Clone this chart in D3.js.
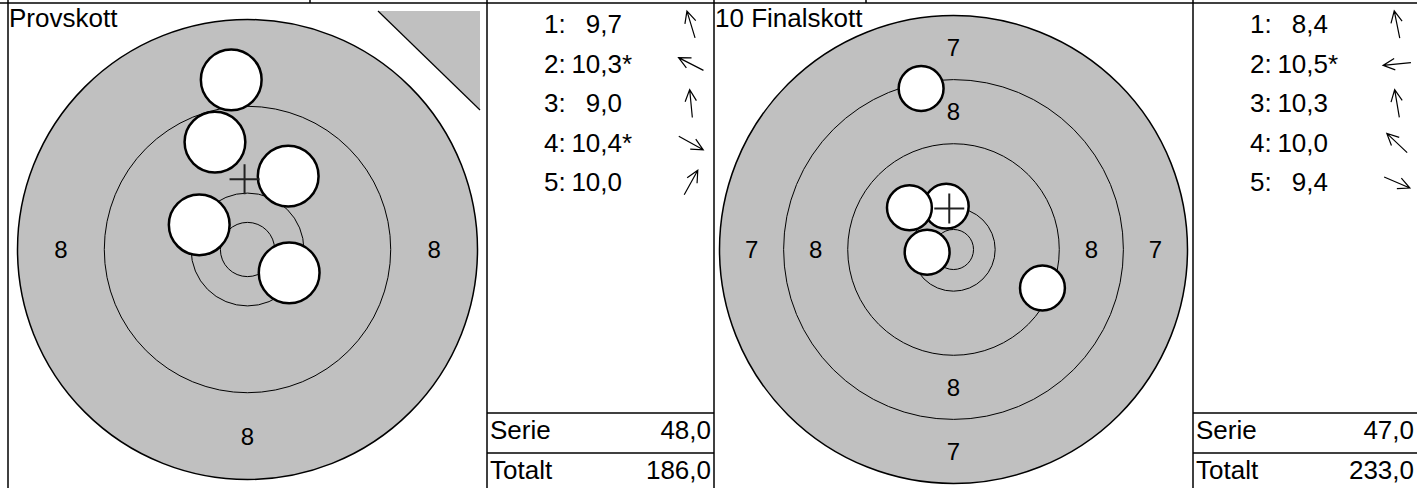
<!DOCTYPE html>
<html>
<head>
<meta charset="utf-8">
<script src="https://cdnjs.cloudflare.com/ajax/libs/d3/7.8.5/d3.min.js"></script>
<style>
  body { margin: 0; background: white; }
  svg text { font-family: "Liberation Sans", Arial, sans-serif; fill: black; }
</style>
</head>
<body>
<div id="chart"></div>
<script>
// ring radii in mm (X, 10, 9, 8, 7) and shot radius
var ringNames = ["X", "10", "9", "8", "7"];
var ringRadius = [2.5, 5.2, 13.2, 21.2, 29.2];
var shotRadius = 2.8;

var titles = ["Provskott", "10 Finalskott"];
var outerRing = [3, 4];      // last ring index shown in each target
var labelRings = [[3], [3, 4]];

// shot positions in mm, y up
var provX = [-3.0, -4.45, -1.5, 3.84, 3.75];
var provY = [9.9, 2.28, 15.64, -2.15, 6.76];
var provScore = ["9,7", "10,3", "9,0", "10,4", "10,0"];
var provInner = [false, true, false, true, false];

var finalX = [-4.04, -3.29, -0.91, -5.5, 11.1];
var finalY = [20.09, -0.34, 5.41, 5.21, -4.8];
var finalScore = ["8,4", "10,5", "10,3", "10,0", "9,4"];
var finalInner = [false, true, false, false, false];

var serie = ["48,0", "47,0"];
var totalt = ["186,0", "233,0"];

var WIDTH = 1417, HEIGHT = 488;
var svg = d3.select("#chart").append("svg")
  .attr("width", WIDTH)
  .attr("height", HEIGHT);

var panels = [
  {x0: 8, x1: 487, c1: 1417 - 703, xs: provX, ys: provY, sc: provScore, inn: provInner, rpx: 230},
  {x0: 714, x1: 1193, c1: 1417, xs: finalX, ys: finalY, sc: finalScore, inn: finalInner, rpx: 234}
];
var cy = 249.5;
var fs = 26;

panels.forEach(function(p, k) {
  var R = ringRadius[outerRing[k]];
  var cx = (p.x0 + p.x1) / 2;
  var x = d3.scaleLinear().domain([-R, R]).range([cx - p.rpx, cx + p.rpx]);
  var y = d3.scaleLinear().domain([-R, R]).range([cy + p.rpx, cy - p.rpx]);
  var r = d3.scaleLinear().domain([0, R]).range([0, p.rpx]);

  var g = svg.append("g");

  // outer filled circle
  g.append("circle")
    .attr("cx", x(0)).attr("cy", y(0)).attr("r", r(R))
    .attr("fill", "#c0c0c0").attr("stroke", "black").attr("stroke-width", 1.5);

  // inner ring lines
  g.selectAll(".ring").data(ringRadius.slice(0, outerRing[k])).enter()
    .append("circle")
    .attr("cx", x(0)).attr("cy", y(0)).attr("r", function(d) { return r(d); })
    .attr("fill", "none").attr("stroke", "black").attr("stroke-width", 1);

  // ring labels, four sides
  labelRings[k].forEach(function(i) {
    var mid = (ringRadius[i] + ringRadius[i - 1]) / 2;
    [[0, mid], [0, -mid], [-mid, 0], [mid, 0]].forEach(function(q) {
      g.append("text")
        .attr("x", x(q[0])).attr("y", y(q[1]))
        .attr("dy", "0.36em")
        .attr("text-anchor", "middle")
        .style("font-size", "24px")
        .text(ringNames[i]);
    });
  });

  // shots
  d3.range(p.xs.length).forEach(function(i) {
    g.append("circle")
      .attr("cx", x(p.xs[i])).attr("cy", y(p.ys[i])).attr("r", r(shotRadius))
      .attr("fill", "white").attr("stroke", "black").attr("stroke-width", 2.5);
  });

  // mean point of impact
  var mx = d3.mean(p.xs), my = d3.mean(p.ys);
  g.append("path")
    .attr("d", "M" + (x(mx) - 15) + "," + y(my) + "H" + (x(mx) + 15) +
               "M" + x(mx) + "," + (y(my) - 15) + "V" + (y(my) + 15))
    .attr("stroke", "#222").attr("stroke-width", 2);

  // title
  svg.append("text")
    .attr("x", p.x0 + 1).attr("y", 27)
    .style("font-size", fs + "px")
    .text(titles[k]);

  // score column
  var col = p.x1;
  var rowY = d3.scaleLinear().domain([0, 1]).range([33, 72.5]);
  p.sc.forEach(function(s, i) {
    var by = rowY(i);
    svg.append("text").attr("x", col + 57).attr("y", by)
      .style("font-size", fs + "px").text((i + 1) + ":");
    svg.append("text").attr("x", col + 135).attr("y", by)
      .attr("text-anchor", "end")
      .style("font-size", fs + "px").text(s);
    if (p.inn[i]) {
      svg.append("text").attr("x", col + 135).attr("y", by)
        .style("font-size", fs + "px").text("*");
    }
    // direction arrow
    var a = Math.atan2(-p.ys[i], p.xs[i]);
    var ax = col + 204, ay = by - 8.5, L = 14;
    var tx = ax + L * Math.cos(a), ty = ay + L * Math.sin(a);
    var h = 13, w = 0.45;
    svg.append("path")
      .attr("d", "M" + (ax - L * Math.cos(a)) + "," + (ay - L * Math.sin(a)) +
                 "L" + tx + "," + ty +
                 "M" + (tx - h * Math.cos(a - w)) + "," + (ty - h * Math.sin(a - w)) +
                 "L" + tx + "," + ty +
                 "L" + (tx - h * Math.cos(a + w)) + "," + (ty - h * Math.sin(a + w)))
      .attr("fill", "none").attr("stroke", "black").attr("stroke-width", 1.2);
  });

  // serie / totalt rows
  [[413, "Serie", serie[k]], [453, "Totalt", totalt[k]]].forEach(function(row) {
    svg.append("line")
      .attr("x1", col).attr("x2", p.c1).attr("y1", row[0]).attr("y2", row[0])
      .attr("stroke", "black").attr("stroke-width", 1.5);
    svg.append("text").attr("x", col + 3).attr("y", row[0] + 26)
      .style("font-size", fs + "px").text(row[1]);
    svg.append("text").attr("x", p.c1 - 3).attr("y", row[0] + 26)
      .attr("text-anchor", "end")
      .style("font-size", fs + "px").text(row[2]);
  });
});

// corner triangle in first panel
svg.append("path")
  .attr("d", "M378,11L480,11L480,110Z")
  .attr("fill", "#c0c0c0");
svg.append("line")
  .attr("x1", 378).attr("y1", 11).attr("x2", 480).attr("y2", 110)
  .attr("stroke", "black").attr("stroke-width", 1.2);

// frame lines
svg.append("line").attr("x1", 0).attr("x2", WIDTH).attr("y1", 3).attr("y2", 3)
  .attr("stroke", "black").attr("stroke-width", 1.5);
[8, 487, 714, 1193].forEach(function(xv) {
  svg.append("line").attr("x1", xv).attr("x2", xv).attr("y1", 0).attr("y2", HEIGHT)
    .attr("stroke", "black").attr("stroke-width", 1.5);
});
[310, 866].forEach(function(xv) {
  svg.append("line").attr("x1", xv).attr("x2", xv).attr("y1", 0).attr("y2", 3)
    .attr("stroke", "black").attr("stroke-width", 1.5);
});
</script>
</body>
</html>
